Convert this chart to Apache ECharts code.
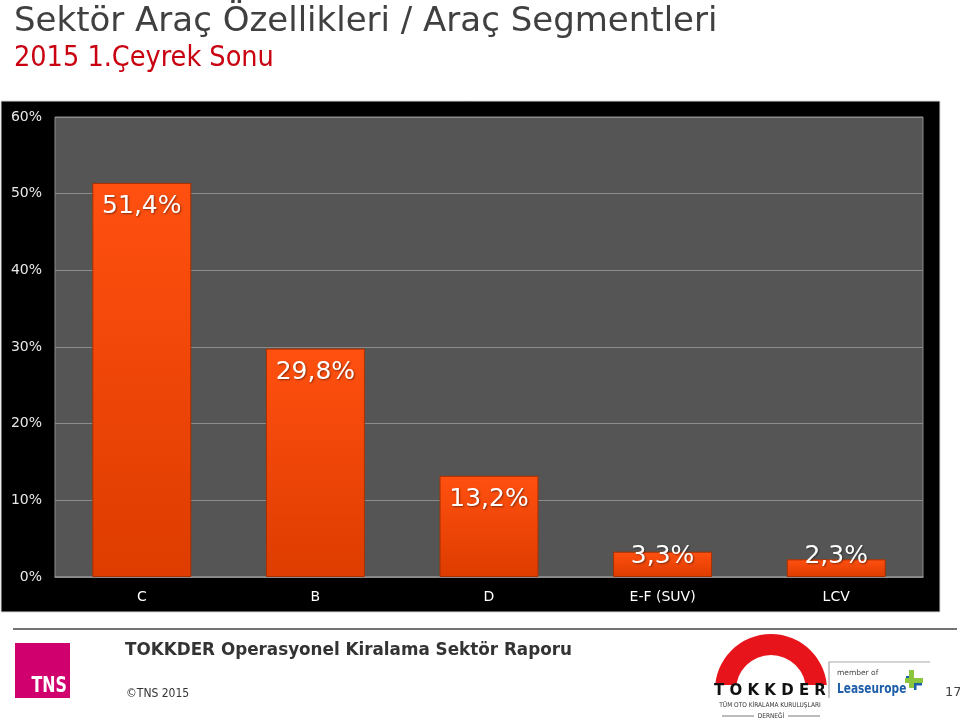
<!DOCTYPE html>
<html>
<head>
<meta charset="utf-8">
<script src="https://cdn.jsdelivr.net/npm/echarts@6/dist/echarts.min.js"></script>
<style>
html,body{margin:0;padding:0;background:#fff;}
#c{width:960px;height:721px;}
</style>
</head>
<body>
<div id="c"></div>
<script>
const categories = ['C', 'B', 'D', 'E-F (SUV)', 'LCV'];
const values = [51.4, 29.8, 13.2, 3.3, 2.3];
const yMin = 0, yMax = 60, yInterval = 10;

const titleText = 'Sektör Araç Özellikleri / Araç Segmentleri';
const subtitleText = '2015 1.Çeyrek Sonu';
const footerTitle = 'TOKKDER Operasyonel Kiralama Sektör Raporu';
const footerCopy = '\u00A9TNS 2015';
const pageNo = '17';

const GRID = { left: 55, top: 117, right: 37, bottom: 144 };
const plotH = 721 - GRID.top - GRID.bottom;
const pxPerUnit = plotH / (yMax - yMin);

// label centre: 24px below bar top, but never lower than 21px above the axis
function labelItem(v) {
  const barPx = v * pxPerUnit;
  const rel = Math.min(24, barPx - 21);
  return {
    value: v,
    label: { position: ['50%', rel], align: 'center', verticalAlign: 'middle' }
  };
}

const chart = echarts.init(document.getElementById('c'), null, { renderer: 'canvas' });

const cond = '"DejaVu Sans Condensed", "DejaVu Sans"';

const option = {
  backgroundColor: '#ffffff',
  animation: false,
  grid: {
    left: GRID.left, top: GRID.top, right: GRID.right, bottom: GRID.bottom,
    show: true, backgroundColor: '#555555', borderColor: '#8c8c8c', borderWidth: 1,
    containLabel: false
  },
  xAxis: {
    type: 'category',
    data: categories,
    axisLine: { show: true, lineStyle: { color: '#8c8c8c', width: 1.5 } },
    axisTick: { show: false },
    axisLabel: { color: '#ffffff', fontSize: 14, fontFamily: 'DejaVu Sans', margin: 13 },
    splitLine: { show: false }
  },
  yAxis: {
    type: 'value',
    min: yMin, max: yMax, interval: yInterval,
    axisLine: { show: false },
    axisTick: { show: false },
    axisLabel: { color: '#e8e8e8', fontSize: 14, fontFamily: 'DejaVu Sans', margin: 13,
      formatter: v => v + '%' },
    splitLine: { show: true, lineStyle: { color: '#8c8c8c', width: 1 } }
  },
  series: [{
    type: 'bar',
    data: values.map(labelItem),
    barWidth: '57%',
    itemStyle: {
      color: new echarts.graphic.LinearGradient(0, 0, 0, 1, [
        { offset: 0, color: '#ff5010' },
        { offset: 1, color: '#de3c00' }
      ]),
      borderColor: '#a83000',
      borderWidth: 1
    },
    label: {
      show: true,
      color: '#ffffff',
      fontSize: 25,
      fontFamily: 'DejaVu Sans',
      textShadowColor: 'rgba(0,0,0,0.45)',
      textShadowBlur: 2,
      textShadowOffsetX: 1,
      textShadowOffsetY: 1,
      formatter: p => p.value.toFixed(1).replace('.', ',') + '%'
    }
  }],
  graphic: [
    // black chart panel
    { type: 'rect', z: -10, silent: true,
      shape: { x: 1, y: 101, width: 939, height: 511 },
      style: { fill: '#000000', stroke: '#d8d8d8', lineWidth: 1 } },
    // title
    { type: 'text', left: 14, top: 5,
      style: { text: titleText, fill: '#404040', font: '34px "DejaVu Sans"',
        shadowColor: 'rgba(0,0,0,0.35)', shadowBlur: 2, shadowOffsetX: 1, shadowOffsetY: 1 } },
    { type: 'text', left: 14, top: 44,
      style: { text: subtitleText, fill: '#c80010', font: '28.5px ' + cond,
        shadowColor: 'rgba(0,0,0,0.3)', shadowBlur: 2, shadowOffsetX: 1, shadowOffsetY: 1 } },
    // footer line
    { type: 'line', shape: { x1: 13, y1: 629, x2: 957, y2: 629 },
      style: { stroke: '#444444', lineWidth: 1.5 } },
    // TNS logo
    { type: 'rect', shape: { x: 15, y: 643, width: 55, height: 55 }, style: { fill: '#d1006f' } },
    { type: 'text', x: 67, y: 697, scaleX: 0.8,
      style: { text: 'TNS', x: 0, y: 0, fill: '#ffffff', font: 'bold 22px ' + cond,
        align: 'right', verticalAlign: 'bottom' } },
    // footer texts
    { type: 'text', x: 125, y: 651,
      style: { text: footerTitle, fill: '#333333', font: 'bold 16.8px "DejaVu Sans"', verticalAlign: 'middle' } },
    { type: 'text', x: 126, y: 694,
      style: { text: footerCopy, fill: '#333333', font: '12px ' + cond, verticalAlign: 'middle' } },
    { type: 'text', x: 945, y: 693,
      style: { text: pageNo, fill: '#444444', font: '13px "DejaVu Sans"', verticalAlign: 'middle' } },
    // TOKKDER logo arch
    { type: 'sector',
      shape: { cx: 771, cy: 690, r: 56, r0: 35, startAngle: Math.PI, endAngle: Math.PI * 2, clockwise: true },
      style: { fill: '#e8141c' } },
    { type: 'rect', shape: { x: 712, y: 685, width: 118, height: 8 }, style: { fill: '#ffffff' } },
    { type: 'text', x: 770, y: 691,
      style: { text: 'T O K K D E R', fill: '#111111', font: 'bold 15px "DejaVu Sans"',
        align: 'center', verticalAlign: 'middle' } },
    { type: 'text', x: 770, y: 705,
      style: { text: 'TÜM OTO KİRALAMA KURULUŞLARI', fill: '#333333', font: '6.5px ' + cond,
        align: 'center', verticalAlign: 'middle' } },
    { type: 'text', x: 771, y: 716,
      style: { text: 'DERNEĞİ', fill: '#333333', font: '6.5px ' + cond,
        align: 'center', verticalAlign: 'middle' } },
    { type: 'line', shape: { x1: 722, y1: 716, x2: 754, y2: 716 }, style: { stroke: '#555', lineWidth: 0.8 } },
    { type: 'line', shape: { x1: 788, y1: 716, x2: 820, y2: 716 }, style: { stroke: '#555', lineWidth: 0.8 } },
    // Leaseurope
    { type: 'polyline', shape: { points: [[829, 698], [829, 662], [930, 662]] },
      style: { stroke: '#a8a8a8', lineWidth: 1.2, fill: null } },
    { type: 'text', x: 837, y: 673,
      style: { text: 'member of', fill: '#444444', font: '7.5px "DejaVu Sans"', verticalAlign: 'middle' } },
    { type: 'text', x: 837, y: 689, scaleX: 0.84,
      style: { text: 'Leaseurope', x: 0, y: 0, fill: '#1e5ea8', font: 'bold 14px ' + cond, verticalAlign: 'middle' } },
    { type: 'rect', shape: { x: 909, y: 670, width: 5, height: 18 }, style: { fill: '#8cc63f' } },
    { type: 'rect', shape: { x: 905, y: 678, width: 18, height: 5 }, style: { fill: '#8cc63f' } },
    { type: 'rect', shape: { x: 914, y: 683, width: 8, height: 2.5 }, style: { fill: '#1e5ea8' } },
    { type: 'rect', shape: { x: 914, y: 683, width: 2.5, height: 7 }, style: { fill: '#1e5ea8' } },
    { type: 'rect', shape: { x: 906, y: 676, width: 3, height: 2 }, style: { fill: '#1e5ea8' } }
  ]
};
chart.setOption(option);
</script>
</body>
</html>
